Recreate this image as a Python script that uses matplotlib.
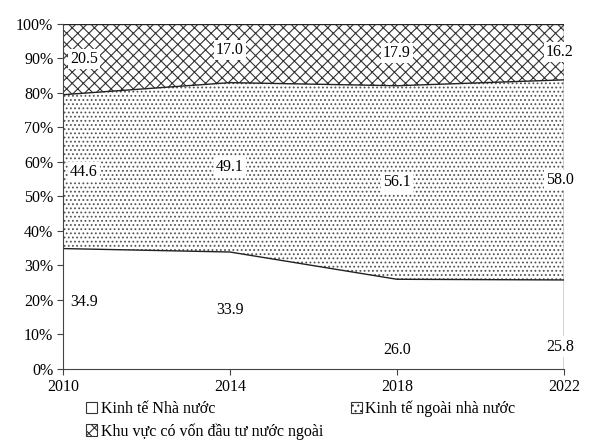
import matplotlib
matplotlib.use("Agg")
import matplotlib.pyplot as plt
import numpy as np
from matplotlib.patches import Patch

plt.rcParams['font.family'] = ['Liberation Serif', 'DejaVu Serif']
plt.rcParams['hatch.linewidth'] = 0.8

years = [2010, 2014, 2018, 2022]
labels = ["Kinh tế Nhà nước", "Kinh tế ngoài nhà nước", "Khu vực có vốn đầu tư nước ngoài"]
state = [34.9, 33.9, 26.0, 25.8]
nonstate = [44.6, 49.1, 56.1, 58.0]
fdi = [20.5, 17.0, 17.9, 16.2]
yticks = [0, 10, 20, 30, 40, 50, 60, 70, 80, 90, 100]

fig = plt.figure(figsize=(6.02, 4.44), dpi=100)
ax = fig.add_axes([0.1047, 0.169, 0.832, 0.777])

x = np.array(years)
s = np.array(state); n = np.array(nonstate); f = np.array(fdi)
b1 = s; b2 = s + n; b3 = s + n + f

ax.fill_between(x, 0, b1, facecolor='white', edgecolor='none')
ax.fill_between(x, b1, b2, facecolor='white', hatch='....', edgecolor='#555555', linewidth=0)
ax.fill_between(x, b2, b3, facecolor='white', hatch='xxx', edgecolor='#333333', linewidth=0)
for top in (b1, b2, b3):
    ax.plot(x, top, color='#222222', lw=1.0)
ax.plot([x[-1], x[-1]], [0, b3[-1]], color='#222222', lw=1.0)

ax.set_xlim(years[0], years[-1])
ax.set_ylim(0, 100)
ax.set_xticks(years)
ax.set_xticklabels([str(y) for y in years], fontsize=11.5)
ax.set_yticks(yticks)
ax.set_yticklabels([f"{t}%" for t in yticks], fontsize=11.5)
for sp in ('top', 'right'):
    ax.spines[sp].set_visible(False)
for sp in ('left', 'bottom'):
    ax.spines[sp].set_color('#444444')
ax.tick_params(axis='both', length=4, color='#444444', pad=3)

# data labels
xoff = [0.5, 0, 0, -0.1]
off_state = [2, 0, -7.5, -6.4]
off_non = [0, 0, 0, 0]
off_fdi = [0, 1.0, 0.5, 0]
bbox = dict(facecolor='white', edgecolor='none', pad=1.5)
for i in range(4):
    ax.text(x[i] + xoff[i], s[i] / 2 + off_state[i], f"{state[i]:.1f}", ha='center', va='center', fontsize=11.5, bbox=bbox)
    ax.text(x[i] + xoff[i], b1[i] + n[i] / 2 + off_non[i], f"{nonstate[i]:.1f}", ha='center', va='center', fontsize=11.5, bbox=bbox)
    ax.text(x[i] + xoff[i], b2[i] + f[i] / 2 + off_fdi[i], f"{fdi[i]:.1f}", ha='center', va='center', fontsize=11.5, bbox=bbox)

h1 = Patch(facecolor='white', edgecolor='#333333', lw=0.8, label=labels[0])
h2 = Patch(facecolor='white', edgecolor='#333333', hatch='...', lw=0.8, label=labels[1])
h3 = Patch(facecolor='white', edgecolor='#333333', hatch='xxx', lw=0.8, label=labels[2])
fig.legend(handles=[h1, h3, h2], labels=[labels[0], labels[2], labels[1]], ncol=2,
           loc='upper left', bbox_to_anchor=(0.13, 0.115), frameon=False, fontsize=11.5,
           handlelength=0.7, handleheight=0.7, handletextpad=0.2, columnspacing=1.75,
           labelspacing=0.35, borderpad=0)

fig.savefig("out.png", dpi=100)
